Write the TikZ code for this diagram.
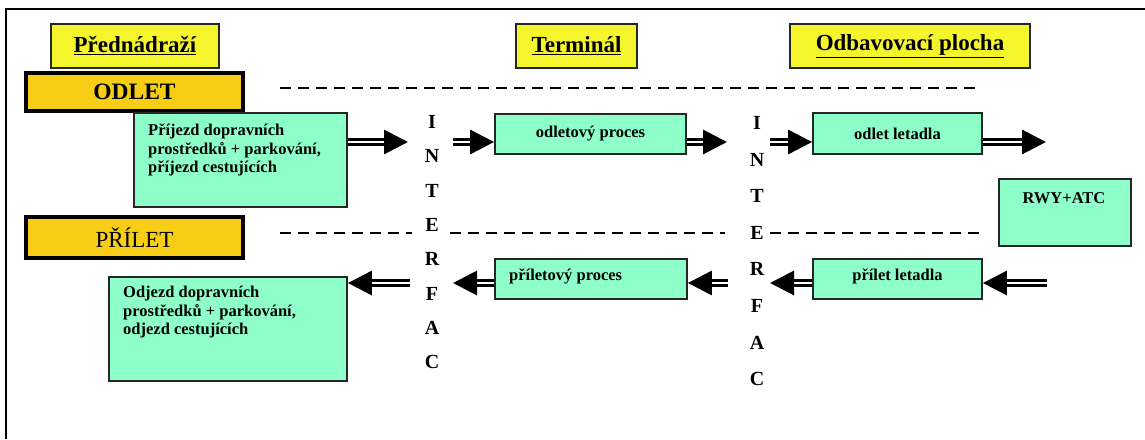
\documentclass[tikz,border=0pt]{standalone}
\usepackage{fontspec}
\setmainfont{Liberation Serif}
\usetikzlibrary{arrows.meta,calc}
\definecolor{hdryellow}{RGB}{245,245,45}
\definecolor{dirorange}{RGB}{247,205,22}
\definecolor{procgreen}{RGB}{142,255,200}
\begin{document}
\begin{tikzpicture}[x=1pt,y=-1pt,
  hdr/.style={draw=black!85,line width=1.5pt,fill=hdryellow,inner sep=0pt,
    font=\fontsize{23pt}{26pt}\selectfont\bfseries},
  dirbox/.style={draw=black,line width=3.5pt,fill=dirorange,inner sep=0pt,
    minimum width=217pt},
  proc/.style={draw=black!85,line width=1.8pt,fill=procgreen,inner sep=0pt,
    font=\fontsize{16.5pt}{18.5pt}\selectfont\bfseries},
  ptext/.style={inner sep=0pt,align=left,
    font=\fontsize{16.5pt}{18.5pt}\selectfont\bfseries},
  letter/.style={inner sep=0pt,font=\fontsize{20pt}{22pt}\selectfont\bfseries},
  flow/.style={double=white,double distance=2pt,line width=3pt,
    -{Triangle[length=24pt,width=24pt]}},
  sep/.style={line width=2pt,dash pattern=on 11pt off 7pt}]
\useasboundingbox (0,0) rectangle (1145,439);
% frame
\draw[line width=2pt] (6,439) -- (6,9) -- (1145,9);
% headers
\node[hdr,minimum width=168pt,minimum height=44pt] (h1) at (135,46) {\underline{Přednádraží}};
\node[hdr,minimum width=121pt,minimum height=44pt] (h2) at (576.5,46) {\underline{Terminál}};
\node[hdr,minimum width=240pt,minimum height=44pt] (h3) at (910,46) {\underline{Odbavovací plocha}};
% direction boxes
\node[dirbox,minimum height=38pt,font=\fontsize{23.5pt}{26pt}\selectfont\bfseries] (odlet) at (134.5,92) {ODLET};
\node[dirbox,minimum height=41pt,font=\fontsize{23pt}{26pt}\selectfont] (prilet) at (134.5,237.5) {PŘÍLET};
% separators
\draw[sep] (280,88) -- (975,88);
\draw[sep] (280,233) -- (412,233);
\draw[sep] (450,233) -- (725,233);
\draw[sep] (770,233) -- (980,233);
% process boxes
\node[proc,minimum width=213pt,minimum height=94pt] (A) at (240.5,160) {};
\node[ptext,anchor=north west] (At) at (148,124) {Příjezd dopravních\\prostředků + parkování,\\příjezd cestujících};
\node[proc,minimum width=191pt,minimum height=40pt] (B) at (590.5,134) {odletový proces};
\node[proc,minimum width=169pt,minimum height=41pt] (C) at (897.5,133.5) {odlet letadla};
\node[proc,minimum width=132pt,minimum height=67pt] (D) at (1065,212.5) {};
\node[ptext] (Dt) at (1064,198) {RWY+ATC};
\node[proc,minimum width=238pt,minimum height=104pt] (E) at (228,329) {};
\node[ptext,anchor=north west] (Et) at (123,286) {Odjezd dopravních\\prostředků + parkování,\\odjezd cestujících};
\node[proc,minimum width=192pt,minimum height=40pt] (F) at (591,279) {};
\node[ptext,anchor=west] (Ft) at (509,276) {příletový proces};
\node[proc,minimum width=169pt,minimum height=40pt] (G) at (897.5,279) {};
\node[ptext] (Gt) at (897.5,276) {přílet letadla};
% interface columns
\foreach \l [count=\i from 0] in {I,N,T,E,R,F,A,C} {
  \node[letter] (ia\i) at (432,122+34.3*\i) {\l};
  \node[letter] (ib\i) at (757,123+36.6*\i) {\l};
}
% free ends
\coordinate (t1) at (408,142);
\coordinate (s2) at (453,142);
\coordinate (t3) at (727,142);
\coordinate (s4) at (770,142);
\coordinate (t5) at (1046,142);
\coordinate (s6) at (1047,283);
\coordinate (t7) at (770,283);
\coordinate (s8) at (728,283);
\coordinate (t9) at (453,283);
\coordinate (s10) at (410,283);
% top row arrows
\draw[flow] (A.east |- t1) -- (t1);
\draw[flow] (s2) -- (B.west |- s2);
\draw[flow] (B.east |- t3) -- (t3);
\draw[flow] (s4) -- (C.west |- s4);
\draw[flow] (C.east |- t5) -- (t5);
% bottom row arrows
\draw[flow] (s6) -- (G.east |- s6);
\draw[flow] (G.west |- t7) -- (t7);
\draw[flow] (s8) -- (F.east |- s8);
\draw[flow] (F.west |- t9) -- (t9);
\draw[flow] (s10) -- (E.east |- s10);
\end{tikzpicture}
\end{document}
